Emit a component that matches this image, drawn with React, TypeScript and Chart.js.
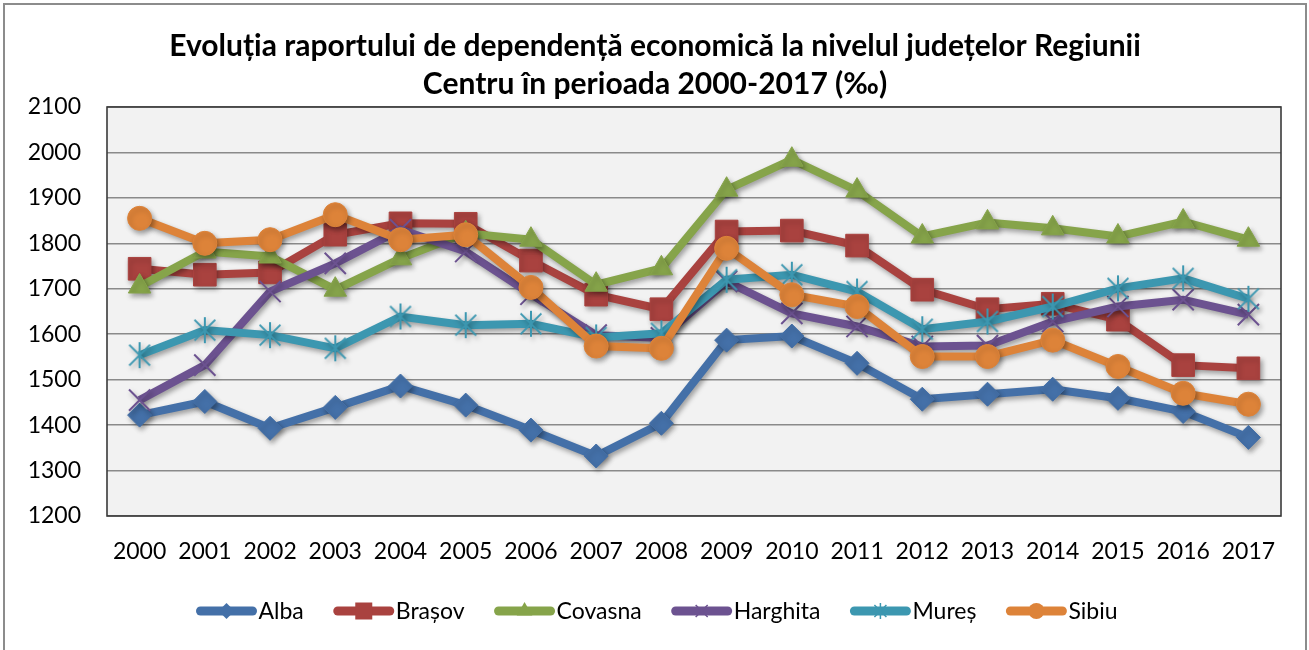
import React, { useEffect, useRef } from 'react';
import { Chart, registerables } from 'chart.js';

Chart.register(...registerables);

const years = ['2000', '2001', '2002', '2003', '2004', '2005', '2006', '2007', '2008', '2009', '2010', '2011', '2012', '2013', '2014', '2015', '2016', '2017'];

const alba = [1422, 1452, 1393, 1439, 1486, 1444, 1389, 1332, 1404, 1587, 1596, 1536, 1457, 1468, 1479, 1459, 1430, 1373];
const brasov = [1744, 1731, 1736, 1819, 1844, 1843, 1762, 1687, 1655, 1826, 1828, 1795, 1698, 1655, 1667, 1632, 1532, 1525];
const covasna = [1705, 1782, 1771, 1698, 1767, 1822, 1808, 1709, 1745, 1918, 1984, 1916, 1815, 1846, 1833, 1815, 1848, 1808];
const harghita = [1455, 1532, 1694, 1756, 1830, 1782, 1688, 1598, 1592, 1716, 1646, 1617, 1573, 1575, 1628, 1661, 1676, 1643];
const mures = [1554, 1609, 1598, 1569, 1639, 1620, 1623, 1593, 1602, 1720, 1731, 1694, 1611, 1628, 1661, 1701, 1723, 1678];
const sibiu = [1855, 1800, 1808, 1863, 1808, 1819, 1703, 1574, 1569, 1789, 1687, 1661, 1551, 1551, 1587, 1529, 1470, 1446];

const seriesNames = ['Alba', 'Brașov', 'Covasna', 'Harghita', 'Mureș', 'Sibiu'];
const seriesColors = ['#4470A8', '#A9423F', '#86A44A', '#6C5290', '#3C97B0', '#DD8339'];
const titleLines = [
  'Evoluția raportului de dependență economică la nivelul județelor Regiunii',
  'Centru în perioada 2000-2017 (‰)',
];
const yMin = 1200;
const yMax = 2100;
const yStep = 100;

const FONT = 'Lato, "Open Sans", sans-serif';

type Marker = 'rectRot' | 'rect' | 'triangle' | 'crossRot' | 'star6' | 'circle';
const markers: Marker[] = ['rectRot', 'rect', 'triangle', 'crossRot', 'star6', 'circle'];
const markerRadius = [12, 16, 13, 15, 13, 12];

function makeStar(color: string, r: number, lw: number): HTMLCanvasElement {
  const c = document.createElement('canvas');
  const s = Math.ceil(2 * r + 4);
  c.width = s;
  c.height = s;
  const g = c.getContext('2d')!;
  g.strokeStyle = color;
  g.lineWidth = lw;
  const m = s / 2;
  const d = r * 0.8;
  g.beginPath();
  g.moveTo(m, m - r);
  g.lineTo(m, m + r);
  g.moveTo(m - d, m - d);
  g.lineTo(m + d, m + d);
  g.moveTo(m - d, m + d);
  g.lineTo(m + d, m - d);
  g.stroke();
  return c;
}

function drawMarker(ctx: CanvasRenderingContext2D, m: Marker, x: number, y: number, r: number, color: string) {
  ctx.save();
  ctx.fillStyle = color;
  ctx.strokeStyle = color;
  ctx.beginPath();
  if (m === 'rectRot') {
    ctx.moveTo(x, y - r);
    ctx.lineTo(x + r, y);
    ctx.lineTo(x, y + r);
    ctx.lineTo(x - r, y);
    ctx.closePath();
    ctx.fill();
  } else if (m === 'rect') {
    ctx.rect(x - r, y - r, 2 * r, 2 * r);
    ctx.fill();
  } else if (m === 'triangle') {
    ctx.moveTo(x, y - r);
    ctx.lineTo(x + r * 0.866, y + r * 0.5);
    ctx.lineTo(x - r * 0.866, y + r * 0.5);
    ctx.closePath();
    ctx.fill();
  } else if (m === 'circle') {
    ctx.arc(x, y, r, 0, Math.PI * 2);
    ctx.fill();
  } else if (m === 'crossRot') {
    const d = r * 0.75;
    ctx.lineWidth = 1.5;
    ctx.moveTo(x - d, y - d);
    ctx.lineTo(x + d, y + d);
    ctx.moveTo(x - d, y + d);
    ctx.lineTo(x + d, y - d);
    ctx.stroke();
  } else {
    const d = r * 0.75;
    ctx.lineWidth = 1.5;
    ctx.moveTo(x, y - r);
    ctx.lineTo(x, y + r);
    ctx.moveTo(x - d, y - d);
    ctx.lineTo(x + d, y + d);
    ctx.moveTo(x - d, y + d);
    ctx.lineTo(x + d, y - d);
    ctx.stroke();
  }
  ctx.restore();
}

const decorPlugin = {
  id: 'decor',
  beforeDraw(chart: any) {
    const { ctx, chartArea: a } = chart;
    ctx.save();
    ctx.fillStyle = '#ffffff';
    ctx.fillRect(0, 0, chart.width, chart.height);
    ctx.strokeStyle = '#8c8c8c';
    ctx.lineWidth = 2;
    ctx.strokeRect(4, 4, 1302, 700);
    ctx.fillStyle = '#F2F2F2';
    ctx.fillRect(a.left, a.top, a.right - a.left, a.bottom - a.top);
    ctx.restore();
  },
  beforeDatasetsDraw(chart: any) {
    const { ctx, chartArea: a } = chart;
    ctx.save();
    ctx.strokeStyle = '#3a3a3a';
    ctx.lineWidth = 1.6;
    ctx.strokeRect(a.left, a.top, a.right - a.left, a.bottom - a.top);
    ctx.restore();
    ctx.save();
    ctx.shadowColor = 'rgba(0,0,0,0.35)';
    ctx.shadowBlur = 5;
    ctx.shadowOffsetX = 2;
    ctx.shadowOffsetY = 3;
  },
  afterDatasetsDraw(chart: any) {
    chart.ctx.restore();
  },
  afterDraw(chart: any) {
    const { ctx } = chart;
    ctx.save();
    // title
    ctx.fillStyle = '#000';
    ctx.font = `bold 30px ${FONT}`;
    ctx.textAlign = 'center';
    ctx.textBaseline = 'middle';
    ctx.fillText(titleLines[0], 655, 46);
    ctx.fillText(titleLines[1], 655, 84);
    // legend
    ctx.font = `23px ${FONT}`;
    const lineW = 60;
    const gapText = 2;
    const gapItem = 30;
    const widths = seriesNames.map((n) => lineW + gapText + ctx.measureText(n).width);
    const total = widths.reduce((s, w) => s + w, 0) + gapItem * (seriesNames.length - 1);
    let x = 657 - total / 2;
    const y = 611;
    seriesNames.forEach((name, i) => {
      const col = seriesColors[i];
      ctx.save();
      ctx.strokeStyle = col;
      ctx.lineWidth = 9;
      ctx.lineCap = 'round';
      ctx.beginPath();
      ctx.moveTo(x + 4, y);
      ctx.lineTo(x + lineW - 4, y);
      ctx.stroke();
      ctx.restore();
      const lr = [8, 8.5, 9, 8, 8, 8][i];
      drawMarker(ctx, markers[i], x + lineW / 2, y, lr, col);
      ctx.fillStyle = '#000';
      ctx.textAlign = 'left';
      ctx.textBaseline = 'middle';
      ctx.fillText(name, x + lineW + gapText, y + 1);
      x += widths[i] + gapItem;
    });
    ctx.restore();
  },
};

export default function App() {
  const canvasRef = useRef<HTMLCanvasElement | null>(null);

  useEffect(() => {
    if (!canvasRef.current) return;
    const seriesData = [alba, brasov, covasna, harghita, mures, sibiu];
    const starImg = makeStar(seriesColors[4], 13, 2);
    const datasets = seriesNames.map((name, i) => {
      const m = markers[i];
      const style: any = m === 'star6' ? starImg : m;
      return {
        label: name,
        data: seriesData[i],
        borderColor: seriesColors[i],
        backgroundColor: seriesColors[i],
        borderWidth: 8,
        pointStyle: style,
        pointRadius: markerRadius[i],
        pointHoverRadius: markerRadius[i],
        pointBackgroundColor: seriesColors[i],
        pointBorderColor: seriesColors[i],
        pointBorderWidth: m === 'crossRot' ? 2 : 1,
        tension: 0,
        fill: false,
        order: seriesNames.length - i,
      };
    });

    const chart = new Chart(canvasRef.current, {
      type: 'line',
      data: { labels: years, datasets },
      options: {
        animation: false,
        responsive: true,
        maintainAspectRatio: false,
        layout: { padding: { top: 107, right: 28, bottom: 0, left: 0 } },
        plugins: {
          legend: { display: false },
          title: { display: false },
          tooltip: { enabled: false },
        },
        scales: {
          x: {
            offset: true,
            grid: { display: false, drawTicks: false },
            border: { display: false },
            ticks: {
              color: '#000',
              font: { family: FONT, size: 23 },
              padding: 22,
              maxRotation: 0,
              autoSkip: false,
            },
            afterFit: (s: any) => {
              s.height = 134;
            },
          },
          y: {
            min: yMin,
            max: yMax,
            grid: { color: '#8a8a8a', lineWidth: 1.6, drawTicks: false },
            border: { display: false },
            ticks: {
              stepSize: yStep,
              color: '#000',
              font: { family: FONT, size: 23 },
              padding: 26,
              callback: (v: any) => String(v),
            },
            afterFit: (s: any) => {
              s.width = 107;
            },
          },
        },
      },
      plugins: [decorPlugin],
    });
    return () => chart.destroy();
  }, []);

  return (
    <div style={{ position: 'fixed', left: 0, top: 0, width: 1309, height: 650 }}>
      <canvas ref={canvasRef} />
    </div>
  );
}
